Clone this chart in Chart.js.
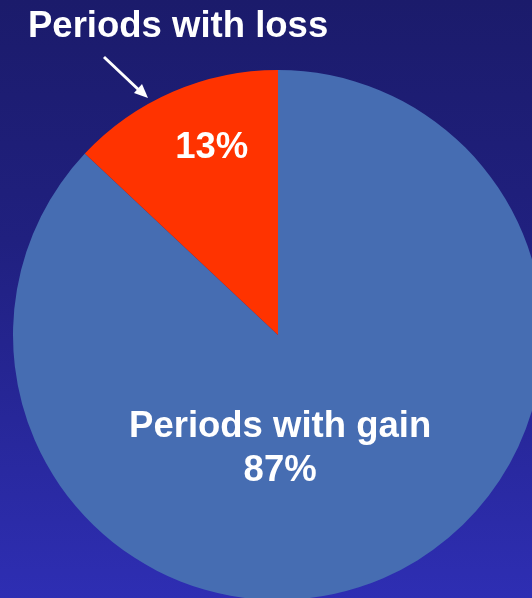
<!DOCTYPE html>
<html>
<head>
<meta charset="utf-8">
<script src="https://cdn.jsdelivr.net/npm/chart.js@4"></script>
<style>
  html, body { margin: 0; padding: 0; }
  body {
    width: 532px; height: 598px; overflow: hidden;
    background: linear-gradient(to bottom, #1b1b6b 0%, #20207f 40%, #2e2eb3 100%);
    font-family: "Liberation Sans", Arial, sans-serif;
  }
  #wrap { position: relative; width: 570px; height: 620px; }
</style>
</head>
<body>
<div id="wrap"><canvas id="pieChart" width="570" height="620"></canvas></div>
<script>
const categories = ['Periods with gain', 'Periods with loss'];
const shares = [87, 13];
const sliceColors = ['#466db2', '#ff3300'];

// white text + arrow drawn on top of the pie
const pieLabels = {
  id: 'pieLabels',
  afterDraw(chart) {
    const ctx = chart.ctx;
    const arc = chart.getDatasetMeta(0).data[0];
    const { x, y, outerRadius: r } = arc.getProps(['x', 'y', 'outerRadius'], true);

    ctx.save();
    ctx.fillStyle = '#ffffff';
    ctx.font = 'bold 36.5px "Liberation Sans", Arial, sans-serif';
    ctx.textBaseline = 'alphabetic';

    ctx.textAlign = 'left';
    ctx.fillText(categories[1], 28, 37);

    ctx.textAlign = 'center';
    ctx.fillText(shares[1] + '%', x - 0.25 * r, y - 0.667 * r);
    ctx.fillText(categories[0], x + 0.008 * r, y + 0.385 * r);
    ctx.fillText(shares[0] + '%', x + 0.008 * r, y + 0.55 * r);

    // arrow pointing at the loss slice
    ctx.strokeStyle = '#ffffff';
    ctx.lineWidth = 3;
    ctx.beginPath();
    ctx.moveTo(104, 57);
    ctx.lineTo(141, 92);
    ctx.stroke();
    ctx.beginPath();
    ctx.moveTo(148, 98);
    ctx.lineTo(134, 93);
    ctx.lineTo(142, 84);
    ctx.closePath();
    ctx.fill();
    ctx.restore();
  }
};

new Chart(document.getElementById('pieChart'), {
  type: 'pie',
  data: {
    labels: categories,
    datasets: [{
      data: shares,
      backgroundColor: sliceColors,
      borderWidth: 0
    }]
  },
  options: {
    responsive: false,
    animation: false,
    layout: { padding: { left: 13, top: 70, right: 570 - 543, bottom: 620 - 600 } },
    plugins: {
      legend: { display: false },
      tooltip: { enabled: false }
    }
  },
  plugins: [pieLabels]
});
</script>
</body>
</html>
